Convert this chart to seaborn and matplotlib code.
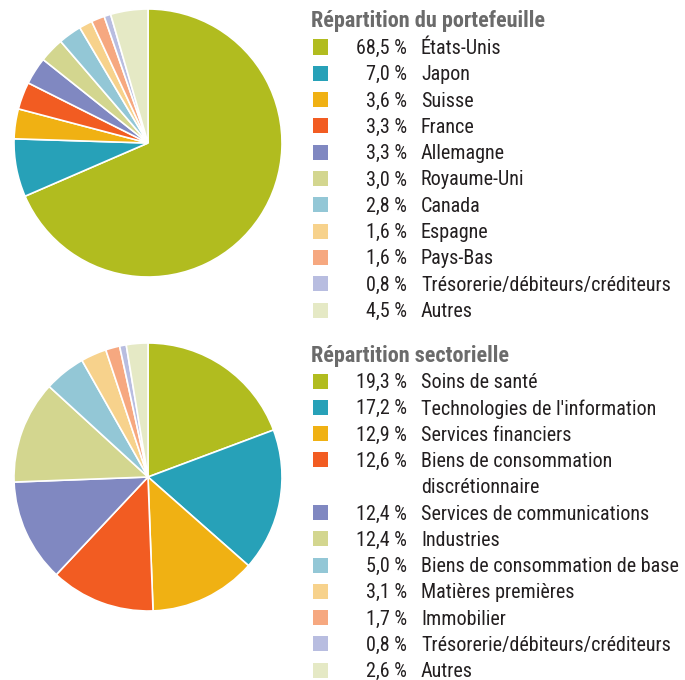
import matplotlib
matplotlib.use("Agg")
import matplotlib.pyplot as plt
import seaborn as sns
from matplotlib.patches import Rectangle

# Data
pays = ["États-Unis", "Japon", "Suisse", "France", "Allemagne", "Royaume-Uni",
        "Canada", "Espagne", "Pays-Bas", "Trésorerie/débiteurs/créditeurs", "Autres"]
pays_pct = [68.5, 7.0, 3.6, 3.3, 3.3, 3.0, 2.8, 1.6, 1.6, 0.8, 4.5]

secteurs = ["Soins de santé", "Technologies de l'information", "Services financiers",
            "Biens de consommation\ndiscrétionnaire", "Services de communications",
            "Industries", "Biens de consommation de base", "Matières premières",
            "Immobilier", "Trésorerie/débiteurs/créditeurs", "Autres"]
secteurs_pct = [19.3, 17.2, 12.9, 12.6, 12.4, 12.4, 5.0, 3.1, 1.7, 0.8, 2.6]

titres = ["Répartition du portefeuille", "Répartition sectorielle"]

couleurs = sns.color_palette(["#B1BC1F", "#27A1B8", "#F0B113", "#F25C22", "#8088C1",
                              "#D3D68F", "#93C7D6", "#F7D28C", "#F6A880", "#B8BDE0",
                              "#E5E9C5"])

sns.set_theme(style="white")
plt.rcParams['font.family'] = ['Roboto Condensed', 'DejaVu Sans']

W, H = 685, 680
fig = plt.figure(figsize=(W / 100, H / 100), dpi=100)

def fx(x):
    return x / W

def fy(y):
    return 1 - y / H

def pie_at(cy, values):
    ax = fig.add_axes([fx(14), fy(cy + 134), 268 / W, 268 / H])
    ax.pie(values, colors=couleurs, startangle=90, counterclock=False,
           wedgeprops=dict(edgecolor="white", linewidth=1.2))
    ax.set_xlim(-1.0, 1.0)
    ax.set_ylim(-1.0, 1.0)
    ax.set_aspect("equal")
    ax.axis("off")

def legende(titre, y_titre, y0, labels, values):
    fig.text(fx(311), fy(y_titre), titre, fontsize=16, fontweight="bold",
             color="#6b6b6b", va="center", ha="left")
    y = y0
    for lab, val, col in zip(labels, values, couleurs):
        fig.patches.append(Rectangle((fx(313), fy(y + 7.5)), 15 / W, 15 / H,
                                     transform=fig.transFigure, facecolor=col,
                                     edgecolor="none"))
        fig.text(fx(407), fy(y + 1.5), f"{val:.1f} %".replace(".", ","), fontsize=14.5,
                 color="#231f20", va="center", ha="right")
        lines = lab.split("\n")
        for i, line in enumerate(lines):
            fig.text(fx(421), fy(y + 1.5 + i * 26.3), line, fontsize=14.5,
                     color="#231f20", va="center", ha="left")
        y += 26.3 * len(lines)

pie_at(143, pays_pct)
pie_at(477, secteurs_pct)
legende(titres[0], 21, 47, pays, pays_pct)
legende(titres[1], 356, 381, secteurs, secteurs_pct)

fig.savefig("out.png", dpi=100)
